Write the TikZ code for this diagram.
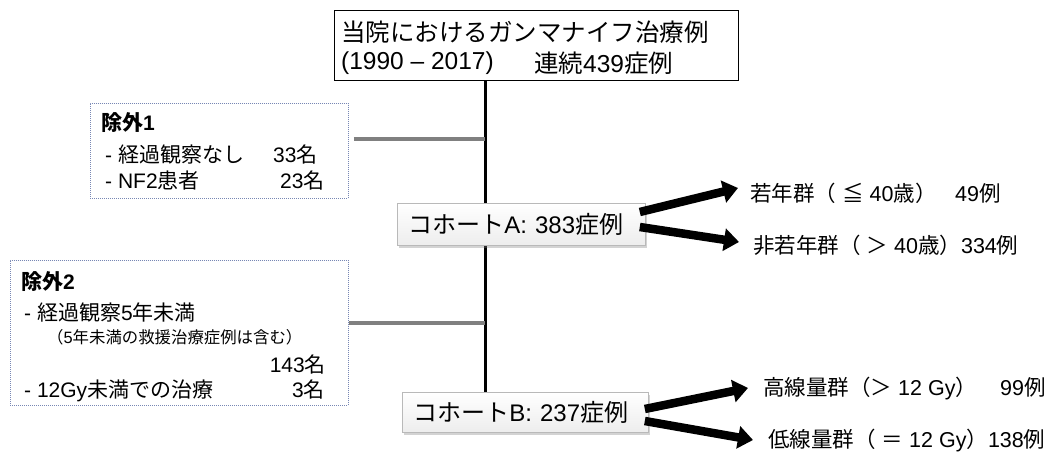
\documentclass[tikz,border=0pt]{standalone}
\usepackage{fontspec}
\setmainfont{Noto Sans CJK JP}
\newfontfamily\ar{Liberation Sans}
\newcommand\lat[1]{{\ar{}#1}}
\usetikzlibrary{arrows.meta,shadows,calc,backgrounds}
\tikzset{
  topbox/.style={draw=black,line width=1.2pt,minimum width=404pt,minimum height=70pt,anchor=north west,inner sep=0pt},
  exbox/.style={draw={rgb,255:red,120;green,135;blue,180},line width=0.9pt,dash pattern=on 1pt off 1pt,anchor=north west,inner sep=0pt},
  cohort/.style={draw=gray!55,line width=0.8pt,top color=white,bottom color=gray!14,
     drop shadow={opacity=0.35,shadow xshift=1.5pt,shadow yshift=-2.5pt},
     anchor=west,align=left,inner xsep=11pt,inner ysep=0pt,font=\fontsize{24}{28}\selectfont},
  txt/.style={inner sep=0pt,anchor=west},
  big/.style={font=\fontsize{24.5}{28}\selectfont},
  mid/.style={font=\fontsize{21}{25}\selectfont},
  small/.style={font=\fontsize{16.4}{19}\selectfont},
  lab/.style={inner sep=0pt,anchor=west,font=\fontsize{21.5}{25}\selectfont},
  vline/.style={line width=3pt,black},
  gline/.style={line width=3.5pt,gray},
  bigarrow/.style={line width=8.5pt,black,-{Triangle[width=22pt,length=15pt]}},
}
\begin{document}
\begin{tikzpicture}[x=1pt,y=-1pt]
\useasboundingbox (0,0) rectangle (1051,457);
% top box
\node[topbox] (top) at (334,10) {};
\node[txt,big] (t1) at (341,32) {当院におけるガンマナイフ治療例};
\node[txt,big] (t2a) at (341,63) {\lat{(1990 – 2017)}};
\node[txt,big] (t2b) at (534,63) {連続\lat{439}症例};
% exclusion boxes
\node[exbox,minimum width=258pt,minimum height=95pt] (ex1) at (90,103) {};
\node[txt,mid] (e1h) at (101,123) {\textbf{除外\lat{1}}};
\node[txt,mid] (e1a) at (105,155) {\makebox[168pt][l]{\lat{- }経過観察なし}\lat{33}名};
\node[txt,mid] (e1b) at (105,181) {\makebox[175pt][l]{\lat{- NF2}患者}\lat{23}名};
\node[exbox,minimum width=338pt,minimum height=145pt] (ex2) at (10,260) {};
\node[txt,mid] (e2h) at (21,282) {\textbf{除外\lat{2}}};
\node[txt,mid] (e2a) at (24,312) {\lat{- }経過観察\lat{5}年未満};
\node[txt,small] (e2b) at (47,337) {（\lat{5}年未満の救援治療症例は含む）};
\node[inner sep=0pt,anchor=east,mid] (e2c) at (326,365) {\lat{143}名};
\node[txt,mid] (e2d) at (24,391) {\makebox[268pt][l]{\lat{- 12Gy}未満での治療}\lat{3}名};
% cohorts
\node[cohort,minimum width=248pt,minimum height=42pt,text width=226pt] (cA) at (397,224) {コホート\lat{A: 383}症例};
\node[cohort,minimum width=246pt,minimum height=40pt,text width=224pt] (cB) at (402,412) {コホート\lat{B: 237}症例};
% trunk line and branches
\coordinate (j1) at (485,139);
\coordinate (j2) at (485,323);
\begin{scope}[on background layer]
\draw[vline] (top.south -| j1) -- (cB.north -| j1);
\end{scope}
\draw[gline,line width=4pt] ($(ex1.east |- j1)+(5,0)$) -- (j1);
\draw[gline] (ex2.east |- j2) -- (j2);
% labels
\node[lab] (la1) at (750,193) {\makebox[205pt][l]{若年群（\lat{ }≦\lat{ 40}歳）}\lat{49}例};
\node[lab] (la2) at (753,245) {非若年群（\lat{ }＞\lat{ 40}歳）\lat{334}例};
\node[lab] (lb1) at (763,389) {\makebox[237pt][l]{高線量群（＞\lat{ 12 Gy}）}\lat{99}例};
\node[lab] (lb2) at (768,441) {低線量群（\lat{ }＝\lat{ 12 Gy}）\lat{138}例};
% arrows
\draw[bigarrow] ($(cA.east)+(-6,-12)$) -- ($(la1.west)+(-12,-5)$);
\draw[bigarrow] ($(cA.east)+(-6,3)$) -- ($(la2.west)+(-14,-3)$);
\draw[bigarrow] ($(cB.east)+(-4,-3)$) -- ($(lb1.west)+(-15,-1)$);
\draw[bigarrow] ($(cB.east)+(-4,9)$) -- ($(lb2.west)+(-15,-1)$);
\end{tikzpicture}
\end{document}
